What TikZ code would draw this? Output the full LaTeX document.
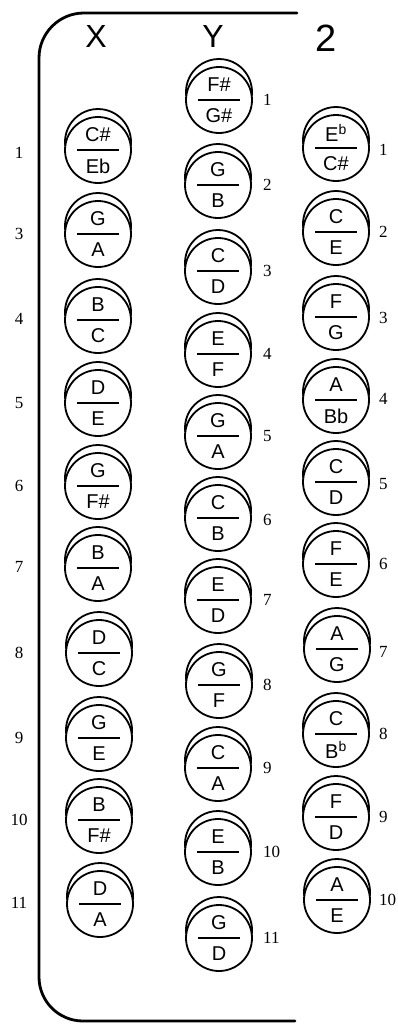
\documentclass[tikz,border=0pt]{standalone}
\usepackage{fontspec}
\setmainfont{Liberation Serif}
\newfontfamily\notefont{Liberation Sans}
\begin{document}
\begin{tikzpicture}[x=1pt,y=1pt,
  keyring/.style={circle,draw,line width=1.8pt,minimum size=66pt,inner sep=0pt},
  notetxt/.style={font=\notefont\fontsize{20}{20}\selectfont,inner sep=0pt},
  rownum/.style={font=\fontsize{17}{17}\selectfont,inner sep=0pt},
  headtxt/.style={font=\notefont\fontsize{32}{32}\selectfont,inner sep=0pt},
  thick line/.style={line width=1.8pt},
  framestyle/.style={line width=2.8pt,line cap=round}]
\useasboundingbox (0,0) rectangle (398,-1025);
\newcommand\keybtn[5]{%
  \node[keyring] (#1) at (#2,-#3) {};
  \draw[thick line] ([yshift=8pt]#1.center) ++(-7:33) arc[start angle=-7,end angle=187,radius=33];
  \draw[thick line] ([xshift=-21pt]#1.center) -- ([xshift=21pt]#1.center);
  \node[notetxt] (#1t) at ([yshift=15pt]#1.center) {#4};
  \node[notetxt] (#1b) at ([yshift=-16pt]#1.center) {#5};
}
% frame
\draw[framestyle] (297,-13) -- (84,-13) arc[start angle=90,end angle=180,radius=45]
  -- (39,-977) arc[start angle=180,end angle=270,radius=44] -- (295,-1021);
% headers
\node[headtxt] (hx) at (96,-36) {X};
\node[headtxt] (hy) at (213,-36) {Y};
\node[headtxt,font=\notefont\fontsize{38}{38}\selectfont] (hz) at (326,-38) {2};
% column X
\keybtn{x1}{98}{150}{C\#}{Eb}
\keybtn{x3}{98}{234}{G}{A}
\keybtn{x4}{98}{320}{B}{C}
\keybtn{x5}{98}{403}{D}{E}
\keybtn{x6}{98}{486}{G}{F\#}
\keybtn{x7}{98}{568}{B}{A}
\keybtn{x8}{99}{653}{D}{C}
\keybtn{x9}{99}{738}{G}{E}
\keybtn{x10}{99}{820}{B}{F\#}
\keybtn{x11}{100}{904}{D}{A}
\foreach \n/\yy in {1/153,3/234,4/319,5/403,6/486,7/567,8/653,9/738,10/820,11/903}
  \node[rownum] (lx\n) at (19,-\yy) {\n};
% column Y
\keybtn{y1}{219}{100}{F\#}{G\#}
\keybtn{y2}{218}{185}{G}{B}
\keybtn{y3}{218}{271}{C}{D}
\keybtn{y4}{218}{354}{E}{F}
\keybtn{y5}{218}{436}{G}{A}
\keybtn{y6}{218}{518}{C}{B}
\keybtn{y7}{218}{600}{E}{D}
\keybtn{y8}{219}{685}{G}{F}
\keybtn{y9}{218}{768}{C}{A}
\keybtn{y10}{218}{852}{E}{B}
\keybtn{y11}{219}{938}{G}{D}
\foreach \n/\yy in {1/100,2/185,3/271,4/354,5/436,6/520,7/600,8/685,9/768,10/852,11/938}
  \node[rownum,anchor=west] (ly\n) at (263,-\yy) {\n};
% column Z
\keybtn{z1}{336}{148}{E\textsuperscript{b}}{C\#}
\keybtn{z2}{336}{232}{C}{E}
\keybtn{z3}{336}{317}{F}{G}
\keybtn{z4}{336}{400}{A}{Bb}
\keybtn{z5}{336}{482}{C}{D}
\keybtn{z6}{336}{564}{F}{E}
\keybtn{z7}{337}{649}{A}{G}
\keybtn{z8}{336}{734}{C}{B\textsuperscript{b}}
\keybtn{z9}{336}{817}{F}{D}
\keybtn{z10}{337}{900}{A}{E}
\foreach \n/\yy in {1/150,2/232,3/318,4/399,5/484,6/564,7/652,8/734,9/817,10/900}
  \node[rownum,anchor=west] (lz\n) at (379,-\yy) {\n};
\end{tikzpicture}
\end{document}
